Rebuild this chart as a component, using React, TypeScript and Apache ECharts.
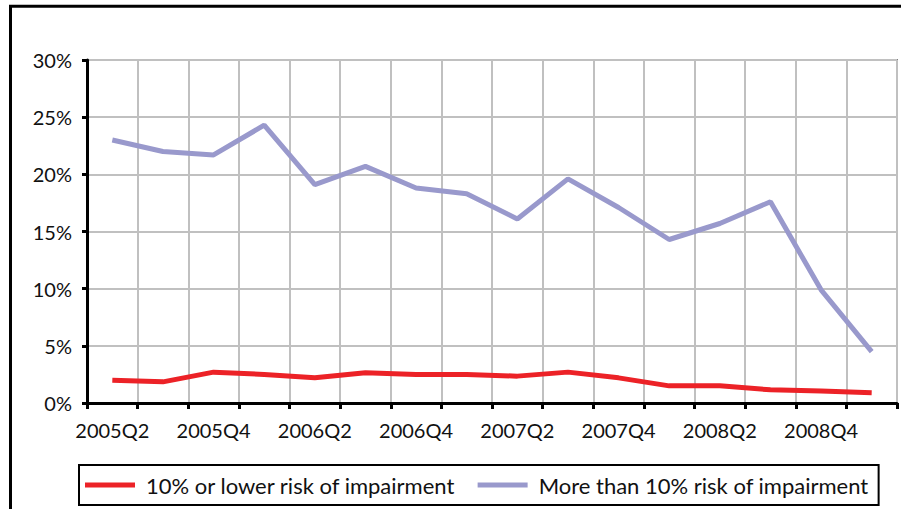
import React, { useEffect, useRef } from "react";
import * as echarts from "echarts";

const categories = [
  "2005Q2", "2005Q3", "2005Q4", "2006Q1", "2006Q2", "2006Q3", "2006Q4", "2007Q1",
  "2007Q2", "2007Q3", "2007Q4", "2008Q1", "2008Q2", "2008Q3", "2008Q4", "2009Q1",
];
const lowRisk = [2.0, 1.85, 2.7, 2.5, 2.2, 2.65, 2.5, 2.5, 2.35, 2.7, 2.2, 1.5, 1.5, 1.15, 1.05, 0.9];
const highRisk = [23.0, 22.0, 21.7, 24.3, 19.1, 20.7, 18.8, 18.3, 16.1, 19.6, 17.1, 14.3, 15.7, 17.6, 9.9, 4.5];
const seriesNames = ["10% or lower risk of impairment", "More than 10% risk of impairment"];
const FONT = "Lato";

export default function App() {
  const ref = useRef<HTMLDivElement>(null);
  useEffect(() => {
    if (!ref.current) return;
    const chart = echarts.init(ref.current, undefined, { renderer: "svg" });
    chart.setOption({
      animation: false,
      backgroundColor: "#ffffff",
      textStyle: { fontFamily: FONT },
      grid: {
        left: 87, right: 4, top: 60, bottom: 106,
        show: true, borderColor: "#808080", borderWidth: 2, backgroundColor: "transparent",
      },
      graphic: [
        {
          type: "rect",
          shape: { x: 10.5, y: 6.2, width: 1000, height: 1000 },
          style: { fill: "none", stroke: "#000", lineWidth: 3 },
          silent: true,
          z: 100,
        },
      ],
      legend: {
        left: 79, top: 465,
        orient: "horizontal",
        borderColor: "#000", borderWidth: 2,
        padding: [9, 10, 9, 6],
        itemWidth: 50, itemHeight: 5, itemGap: 22, itemTextGap: 12,
        icon: "rect",
        textStyle: { fontSize: 22, color: "#111", fontFamily: FONT, padding: [0, 0, 0, 6] },
        data: seriesNames,
      },
      xAxis: {
        type: "category",
        data: categories,
        boundaryGap: true,
        axisLine: { show: true, lineStyle: { color: "#000", width: 3 } },
        axisTick: { show: true, interval: 0, length: 6, lineStyle: { color: "#000", width: 3 } },
        axisLabel: { interval: 1, fontSize: 20, color: "#111", margin: 17, fontFamily: FONT },
        splitLine: { show: true, interval: 0, lineStyle: { color: "#c0c0c0", width: 2 } },
      },
      yAxis: {
        type: "value",
        min: 0, max: 30, interval: 5,
        axisLine: { show: true, lineStyle: { color: "#000", width: 3 } },
        axisTick: { show: true, length: 5, lineStyle: { color: "#000", width: 3 } },
        axisLabel: { formatter: "{value}%", fontSize: 20, color: "#111", margin: 15, fontFamily: FONT },
        splitLine: { show: true, lineStyle: { color: "#c0c0c0", width: 2 } },
      },
      series: [
        {
          name: seriesNames[0], type: "line", data: lowRisk,
          showSymbol: false, symbol: "none",
          lineStyle: { color: "#ec2227", width: 5 }, itemStyle: { color: "#ec2227" },
          z: 3,
        },
        {
          name: seriesNames[1], type: "line", data: highRisk,
          showSymbol: false, symbol: "none",
          lineStyle: { color: "#9999cc", width: 5 }, itemStyle: { color: "#9999cc" },
          z: 3,
        },
      ],
    });
    return () => chart.dispose();
  }, []);
  return (
    <div
      ref={ref}
      style={{ position: "fixed", left: 0, top: 0, width: 901, height: 509, background: "#fff" }}
    />
  );
}
